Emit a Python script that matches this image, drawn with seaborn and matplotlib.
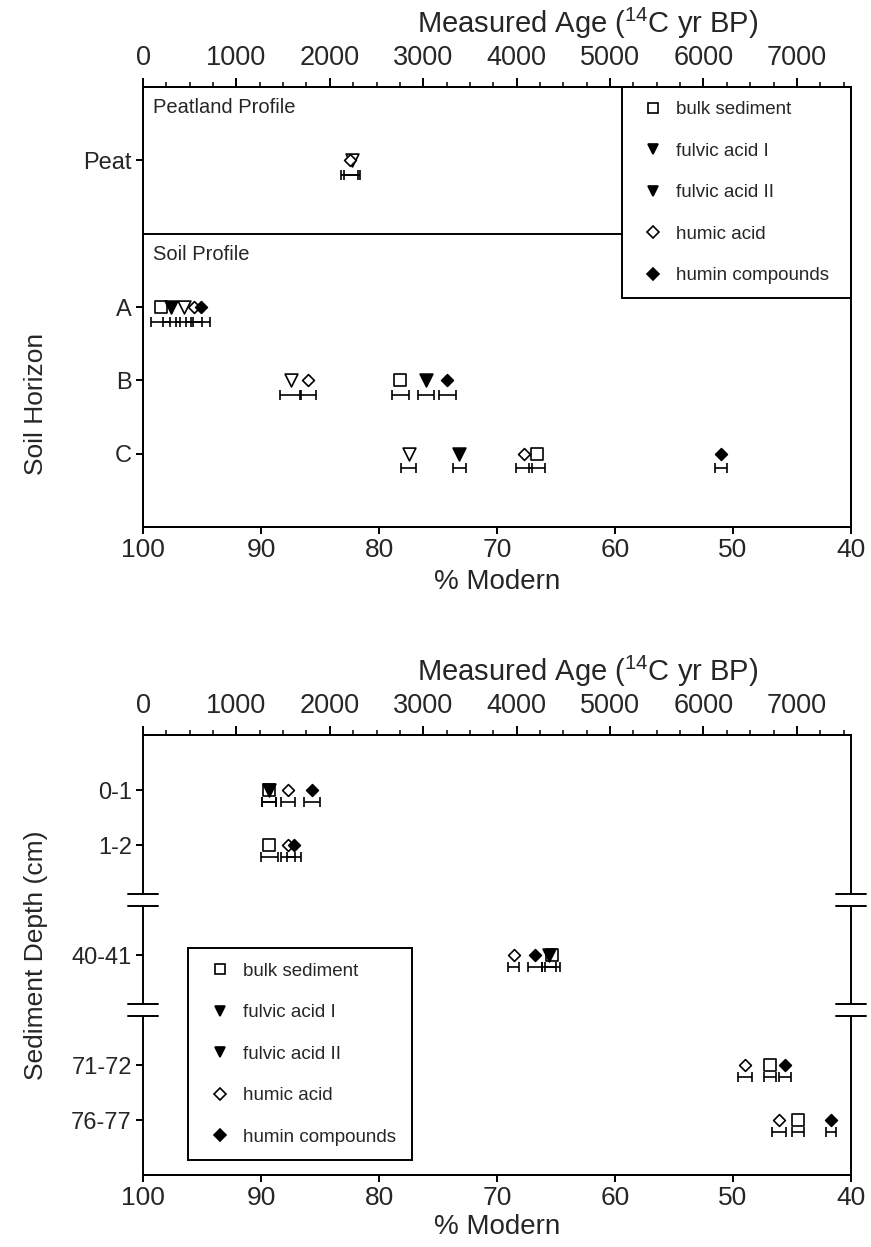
import numpy as np
import pandas as pd
import matplotlib
matplotlib.use("Agg")
import matplotlib.pyplot as plt
import matplotlib.transforms as mtransforms
from matplotlib.lines import Line2D
import seaborn as sns

sns.set_theme(style="white")
plt.rcParams["font.family"] = ["Liberation Sans", "DejaVu Sans"]
plt.rcParams["mathtext.fontset"] = "custom"
plt.rcParams["mathtext.rm"] = "Liberation Sans"

# ---------------- data ----------------
series_names = ["bulk sediment", "fulvic acid I", "fulvic acid II", "humic acid", "humin compounds"]

# Top panel (soil / peat)
top_rows = ["Peat", "A", "B", "C"]
top_row_pos = [0, 2, 3, 4]

top_bulk_rows = ["A", "B", "C"]
top_bulk_pm = [98.5, 78.2, 66.6]
top_bulk_err = [0.8, 0.7, 0.65]

top_fa1_rows = ["A", "B", "C"]
top_fa1_pm = [97.6, 76.0, 73.2]
top_fa1_err = [0.7, 0.7, 0.55]

top_fa2_rows = ["Peat", "A", "B", "C"]
top_fa2_pm = [82.3, 96.5, 87.5, 77.5]
top_fa2_err = [0.7, 0.7, 0.85, 0.65]

top_ha_rows = ["Peat", "A", "B", "C"]
top_ha_pm = [82.5, 95.7, 86.0, 67.7]
top_ha_err = [0.7, 0.7, 0.7, 0.7]

top_hu_rows = ["A", "B", "C"]
top_hu_pm = [95.1, 74.2, 51.0]
top_hu_err = [0.8, 0.7, 0.5]

# Bottom panel (sediment depth)
bot_rows = ["0-1", "1-2", "40-41", "71-72", "76-77"]
bot_row_pos = [0, 1, 3, 5, 6]
bot_breaks = [2, 4]

bot_bulk_rows = ["0-1", "1-2", "40-41", "71-72", "76-77"]
bot_bulk_pm = [89.3, 89.3, 65.3, 46.9, 44.5]
bot_bulk_err = [0.6, 0.7, 0.6, 0.5, 0.5]

bot_fa1_rows = ["0-1", "40-41"]
bot_fa1_pm = [89.3, 65.6]
bot_fa1_err = [0.6, 0.6]

bot_ha_rows = ["0-1", "1-2", "40-41", "71-72", "76-77"]
bot_ha_pm = [87.7, 87.7, 68.6, 49.0, 46.1]
bot_ha_err = [0.6, 0.6, 0.5, 0.6, 0.6]

bot_hu_rows = ["0-1", "1-2", "40-41", "71-72", "76-77"]
bot_hu_pm = [85.7, 87.2, 66.8, 45.6, 41.7]
bot_hu_err = [0.7, 0.6, 0.6, 0.5, 0.45]

pm_ticks = [100, 90, 80, 70, 60, 50, 40]
age_ticks = [0, 1000, 2000, 3000, 4000, 5000, 6000, 7000]
age_max = 7580

styles = {
    "bulk sediment": dict(marker="s", face="white", s=72),
    "fulvic acid I": dict(marker="v", face="black", s=85),
    "fulvic acid II": dict(marker="v", face="white", s=85),
    "humic acid": dict(marker="D", face="white", s=36),
    "humin compounds": dict(marker="D", face="black", s=36),
}
legend_face = {"bulk sediment": "white", "fulvic acid I": "black", "fulvic acid II": "black",
               "humic acid": "white", "humin compounds": "black"}


def make_df(rows, pm, err, name, row_names, row_pos):
    m = dict(zip(row_names, row_pos))
    return pd.DataFrame({"row": rows, "pos": [m[r] for r in rows], "pm": pm, "err": err, "series": name})


top_df = pd.concat([
    make_df(top_bulk_rows, top_bulk_pm, top_bulk_err, "bulk sediment", top_rows, top_row_pos),
    make_df(top_fa1_rows, top_fa1_pm, top_fa1_err, "fulvic acid I", top_rows, top_row_pos),
    make_df(top_fa2_rows, top_fa2_pm, top_fa2_err, "fulvic acid II", top_rows, top_row_pos),
    make_df(top_ha_rows, top_ha_pm, top_ha_err, "humic acid", top_rows, top_row_pos),
    make_df(top_hu_rows, top_hu_pm, top_hu_err, "humin compounds", top_rows, top_row_pos),
])
bot_df = pd.concat([
    make_df(bot_bulk_rows, bot_bulk_pm, bot_bulk_err, "bulk sediment", bot_rows, bot_row_pos),
    make_df(bot_fa1_rows, bot_fa1_pm, bot_fa1_err, "fulvic acid I", bot_rows, bot_row_pos),
    make_df(bot_ha_rows, bot_ha_pm, bot_ha_err, "humic acid", bot_rows, bot_row_pos),
    make_df(bot_hu_rows, bot_hu_pm, bot_hu_err, "humin compounds", bot_rows, bot_row_pos),
])

XTICK_FS = 19
YTICK_FS = 17
TOPTICK_FS = 19.5
LABEL_FS = 20
YLABEL_FS = 19
TITLE_FS = 21
TEXT_FS = 14.5
LEG_FS = 13.5
LW = 1.4

fig = plt.figure(figsize=(8.71, 12.47), dpi=100)
ax_top = fig.add_axes([0.1642, 0.5774, 0.8129, 0.3528])
ax_bot = fig.add_axes([0.1642, 0.0577, 0.8129, 0.3528])


def draw_points(ax, df, bar_off):
    for name in series_names:
        d = df[df["series"] == name]
        if d.empty:
            continue
        ax.errorbar(d["pm"], d["pos"] + bar_off, xerr=d["err"], fmt="none", ecolor="black",
                    elinewidth=1.2, capsize=3.5, capthick=1.2, zorder=2)
    for name in series_names:
        d = df[df["series"] == name]
        if d.empty:
            continue
        st = styles[name]
        sns.scatterplot(data=d, x="pm", y="pos", marker=st["marker"], s=st["s"], color=st["face"],
                        edgecolor="black", linewidth=1.2, ax=ax, legend=False, zorder=3)


def style_axes(ax, ylim, yticks, ylabels, ylabel, ylabel_y, xlabelpad):
    ax.set_xlim(100, 40)
    ax.set_ylim(*ylim)
    ax.set_xticks(pm_ticks)
    ax.set_xticklabels([str(t) for t in pm_ticks])
    ax.set_yticks(yticks)
    ax.set_yticklabels(ylabels)
    ax.set_xlabel("% Modern", fontsize=LABEL_FS, labelpad=xlabelpad)
    ax.set_ylabel(ylabel, fontsize=YLABEL_FS)
    ax.yaxis.set_label_coords(-0.134, ylabel_y)
    ax.tick_params(axis="both", which="major", direction="out", length=5, width=LW,
                   color="black", pad=3)
    ax.tick_params(axis="x", bottom=True, labelsize=XTICK_FS)
    ax.tick_params(axis="y", left=True, labelsize=YTICK_FS)
    for sp in ax.spines.values():
        sp.set_linewidth(LW)
        sp.set_color("black")
    tw = ax.twiny()
    tw.set_xlim(0, age_max)
    tw.set_xticks(age_ticks)
    tw.set_xticklabels([str(t) for t in age_ticks])
    tw.xaxis.set_minor_locator(matplotlib.ticker.MultipleLocator(250))
    tw.tick_params(axis="x", which="major", direction="out", length=6.5, width=LW,
                   labelsize=TOPTICK_FS, top=True, color="black", pad=5)
    tw.tick_params(axis="x", which="minor", direction="out", length=3.5, width=1.1,
                   top=True, color="black")
    tw.set_xlabel(r"Measured Age ($\mathregular{^{14}}$C yr BP)", fontsize=TITLE_FS)
    tw.xaxis.set_label_coords(0.6285, 1.123)
    for sp in tw.spines.values():
        sp.set_linewidth(LW)
        sp.set_color("black")
    return tw


def make_legend(ax, loc, anchor):
    handles = []
    for name in series_names:
        st = styles[name]
        ms = np.sqrt(st["s"]) * (0.85 if st["marker"] != "D" else 0.95)
        handles.append(Line2D([], [], linestyle="none", marker=st["marker"], markersize=ms,
                              markerfacecolor=legend_face[name], markeredgecolor="black",
                              markeredgewidth=1.2))
    leg = ax.legend(handles, series_names, loc=loc, bbox_to_anchor=anchor, mode="expand",
                    frameon=True, fancybox=False, edgecolor="black", facecolor="white",
                    framealpha=1, fontsize=LEG_FS, labelspacing=1.3, borderpad=0.75,
                    handlelength=1.85, handletextpad=0.3, borderaxespad=0)
    leg.get_frame().set_linewidth(LW)
    leg.set_zorder(5)
    return leg


# ---------------- top panel ----------------
draw_points(ax_top, top_df, 0.2)
tw_top = style_axes(ax_top, (5, -1), top_row_pos, top_rows, "Soil Horizon", 0.28, 5)
ax_top.axhline(1, color="black", linewidth=LW, zorder=1)
ax_top.text(0.014, 0.975, "Peatland Profile", transform=ax_top.transAxes, fontsize=TEXT_FS,
            va="top", ha="left")
ax_top.text(0.014, 0.64, "Soil Profile", transform=ax_top.transAxes, fontsize=TEXT_FS,
            va="top", ha="left")
make_legend(ax_top, "upper left", (0.6766, 0.0, 0.3234, 1.0))

# ---------------- bottom panel ----------------
draw_points(ax_bot, bot_df, 0.22)
bot_ylim = (7, -1)
tw_bot = style_axes(ax_bot, bot_ylim, bot_row_pos, bot_rows, "Sediment Depth (cm)", 0.5, 3)
make_legend(ax_bot, "lower left", (0.064, 0.035, 0.316, 0.6))

# broken left/right spines
for sp in ["left", "right"]:
    ax_bot.spines[sp].set_visible(False)
    tw_bot.spines[sp].set_visible(False)
trans = mtransforms.blended_transform_factory(ax_bot.transAxes, ax_bot.transData)
gap = 0.11
edges = [bot_ylim[1]] + [v for b in bot_breaks for v in (b - gap, b + gap)] + [bot_ylim[0]]
for xa in (0.0, 1.0):
    for i in range(0, len(edges), 2):
        ax_bot.plot([xa, xa], [edges[i], edges[i + 1]], color="black", linewidth=LW,
                    transform=trans, clip_on=False, zorder=4, solid_capstyle="projecting")
    for b in bot_breaks:
        for yy in (b - gap, b + gap):
            ax_bot.plot([xa - 0.021, xa + 0.021], [yy, yy], color="black", linewidth=LW,
                        transform=trans, clip_on=False, zorder=4)

fig.savefig("out.png", dpi=100)
